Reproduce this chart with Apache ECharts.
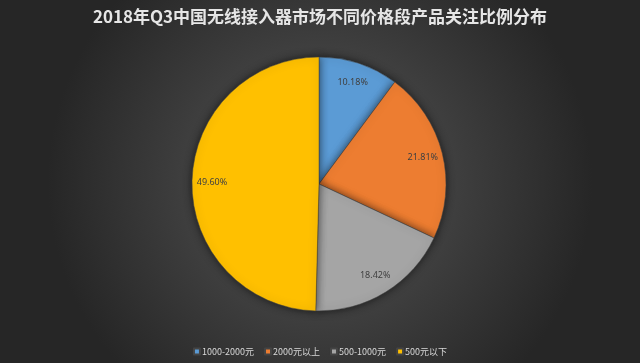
<!DOCTYPE html>
<html><head><meta charset="utf-8">
<script src="https://cdn.jsdelivr.net/npm/echarts@6/dist/echarts.min.js"></script>
<style>html,body{margin:0;padding:0;background:#3a3a3a}#c{width:640px;height:363px}</style>
</head><body><div id="c"></div>
<script>
const title = '2018年Q3中国无线接入器市场不同价格段产品关注比例分布';
const categories = ['1000-2000元', '2000元以上', '500-1000元', '500元以下'];
const values = [10.18, 21.81, 18.42, 49.60];
const colors = ['#5B9BD5', '#ED7D31', '#A5A5A5', '#FFC000'];

const chart = echarts.init(document.getElementById('c'));
const data = categories.map((n, i) => ({ name: n, value: values[i], itemStyle: { color: colors[i] } }));
chart.setOption({
  backgroundColor: {
    type: 'radial', x: 0.5, y: 0.5, r: 0.75,
    colorStops: [{ offset: 0, color: '#575757' }, { offset: 1, color: '#262626' }]
  },
  title: {
    text: title, left: 'center', top: 3,
    textStyle: { color: '#e6e6e6', fontSize: 17, fontWeight: 'bold', fontFamily: 'Noto Sans CJK SC' }
  },
  legend: {
    bottom: 2, left: 'center', itemWidth: 6, itemHeight: 6, itemGap: 10,
    icon: 'rect',
    textStyle: { color: '#d9d9d9', fontSize: 9, fontFamily: 'Noto Sans CJK SC', padding: [0, 0, 0, -3] },
    data: categories
  },
  series: [{
    type: 'pie', center: [319, 184], radius: [0, 127], startAngle: 90, clockwise: true,
    data: data,
    itemStyle: { borderColor: '#444', borderWidth: 0.5, shadowBlur: 8, shadowColor: 'rgba(0,0,0,0.6)' },
    label: { show: false }, labelLine: { show: false }, silent: true
  }, {
    type: 'pie', center: [319, 184], radius: [84, 124], startAngle: 90, clockwise: true,
    data: data.map(d => ({ name: d.name, value: d.value, itemStyle: { color: 'rgba(0,0,0,0)' } })),
    legendHoverLink: false, silent: true,
    label: { show: true, position: 'inside', formatter: p => p.value.toFixed(2) + '%', color: '#404040', fontSize: 9, fontFamily: 'Noto Sans' },
    labelLine: { show: false }
  }]
});
</script></body></html>
